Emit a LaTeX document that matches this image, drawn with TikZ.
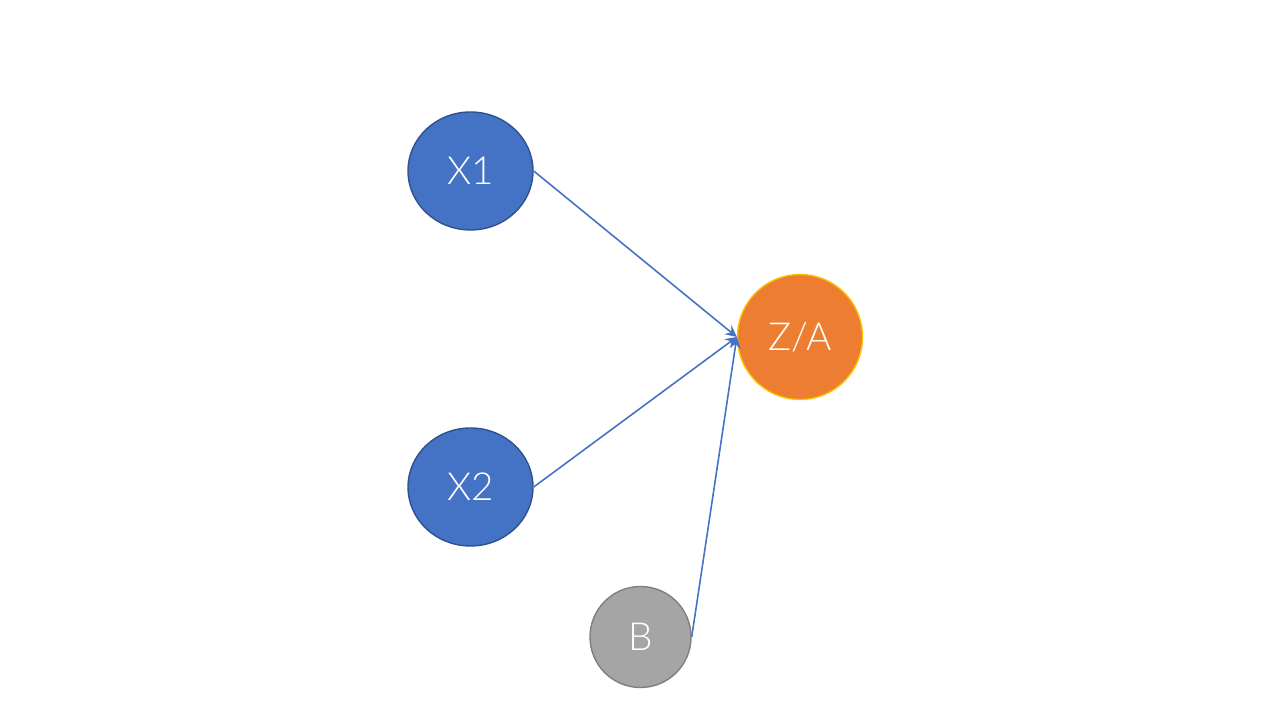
\documentclass[tikz,border=0pt]{standalone}
\usepackage{fontspec}
\setmainfont{Lato Light}
\usepackage{tikz}
\usetikzlibrary{shapes.geometric, arrows}
\definecolor{inblue}{HTML}{4472C4}
\definecolor{inblueline}{HTML}{2F528F}
\definecolor{outorange}{HTML}{ED7D31}
\definecolor{outline}{HTML}{FFC000}
\definecolor{biasgray}{HTML}{A5A5A5}
\definecolor{biasline}{HTML}{7F7F7F}
\tikzstyle{inputnode} = [ellipse, minimum width=1.25cm, minimum height=1.18cm, inner sep=0pt, draw=inblueline, line width=0.4pt, fill=inblue, text=white, font=\fontsize{11pt}{13pt}\selectfont]
\tikzstyle{outputnode} = [circle, minimum size=1.25cm, inner sep=0pt, draw=outline, line width=0.4pt, fill=outorange, text=white, font=\fontsize{11pt}{13pt}\selectfont]
\tikzstyle{biasnode} = [circle, minimum size=1.01cm, inner sep=0pt, draw=biasline, line width=0.4pt, fill=biasgray, text=white, font=\fontsize{11pt}{13pt}\selectfont]
\tikzstyle{arrow} = [line width=0.45pt, draw=inblue, ->, >=stealth]

\begin{document}
\begin{tikzpicture}[node distance=3.16cm]
        \useasboundingbox (0,0) rectangle (12.8,7.2);
        \node (x1) [inputnode] at (4.705,5.49) {X1};
        \node (x2) [inputnode, below of=x1] {X2};
        \node (za) [outputnode] at (8.0,3.83) {Z/A};
        \node (b) [biasnode] at (6.405,0.83) {B};
        \draw [arrow] (x1.east) -- (za.west);
        \draw [arrow] (x2.east) -- (za.west);
        \draw [arrow] (b.east) -- (za.west);
    \end{tikzpicture}
\end{document}
